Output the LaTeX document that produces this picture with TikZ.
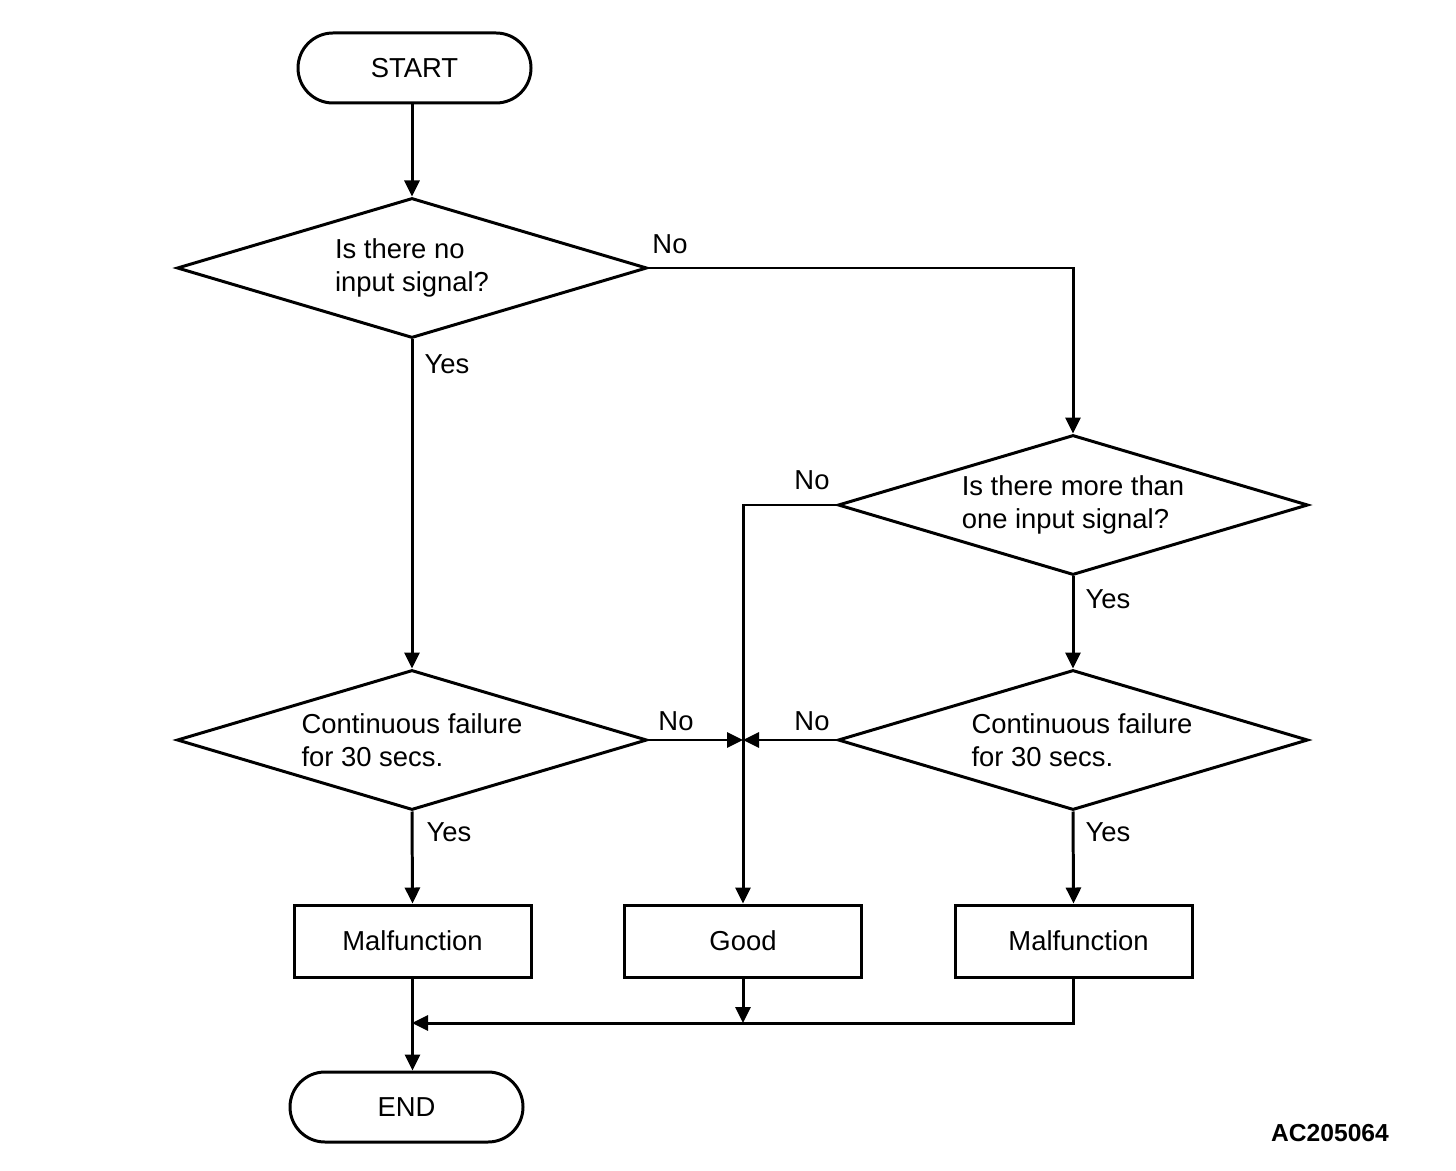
\documentclass[tikz,border=0pt]{standalone}
\usepackage{fontspec}
\setmainfont{Liberation Sans}
\usepackage{tikz}
\usetikzlibrary{shapes.geometric,arrows.meta,calc}

\tikzset{
  arr/.style={line width=0.85pt,-{Triangle[length=0.16cm,width=0.15cm]}},
  ln/.style={line width=0.85pt},
  term/.style={draw,line width=0.85pt,rectangle,rounded corners=0.35cm,minimum width=2.33cm,minimum height=0.7cm},
  decision/.style={draw,line width=0.85pt,diamond,shape aspect=3.36,inner sep=0pt,minimum width=4.7cm,minimum height=1.4cm,align=left},
  result/.style={draw,line width=0.85pt,rectangle,minimum width=2.37cm,minimum height=0.72cm},
  lbl/.style={inner sep=0pt}
}

\begin{document}
\begin{tikzpicture}[font=\fontsize{7.8pt}{9.4pt}\selectfont]
        \useasboundingbox (0,0) rectangle (14.56,-11.70);
        % terminals
        \node[term](start) at (4.145, -0.68) {START};
        \node[term](end) at (4.065, -11.07) {END};
        % decisions
        \node[decision](d1) at (4.12, -2.68) {Is there no\\input signal?};
        \node[decision](d2) at (10.73, -5.05) {Is there more than\\one input signal?};
        \node[decision](d3) at (4.12, -7.40) {Continuous failure\\for 30 secs.};
        \node[decision](d4) at (10.73, -7.40) {\hspace{0.18cm}Continuous failure\\\hspace{0.18cm}for 30 secs.};
        % results
        \node[result](m1) at (4.125, -9.41) {Malfunction};
        \node[result](good) at (7.43, -9.41) {Good};
        \node[result](m2) at (10.735, -9.41) {\hspace{0.1cm}Malfunction};
        \coordinate(join) at (4.12, -10.23);
        % connectors
        \draw[arr] (d1.north |- start.south) -- (d1.north);
        \draw[arr] (d1.east) -| (d2.north);
        \draw[arr] (d1.south) -- (d3.north);
        \draw[arr] (d2.west) -| (good.north);
        \draw[arr] (d2.south) -- (d4.north);
        \draw[arr] (d3.east) -- (d3.east -| good.north);
        \draw[arr] (d4.west) -- (d4.west -| good.north);
        \draw[arr] (d3.south) -- (m1.north);
        \draw[arr] (d4.south) -- (m2.north);
        \draw[arr] (m1.south) -- (m1.south |- end.north);
        \draw[arr] (good.south) -- (good.south |- join);
        \draw[arr] (m2.south) |- (join);
        % labels
        \node[lbl](no1) at (6.70, -2.44) {No};
        \node[lbl](yes1) at (4.47, -3.64) {Yes};
        \node[lbl](no2) at (8.12, -4.80) {No};
        \node[lbl](yes2) at (11.08, -5.99) {Yes};
        \node[lbl](no3) at (6.76, -7.21) {No};
        \node[lbl](no4) at (8.12, -7.21) {No};
        \node[lbl](yes3) at (4.49, -8.32) {Yes};
        \node[lbl](yes4) at (11.08, -8.32) {Yes};
        \node[lbl,font=\fontsize{7pt}{8pt}\selectfont\bfseries](code) at (13.30, -11.33) {AC205064};
      \end{tikzpicture}
\end{document}
